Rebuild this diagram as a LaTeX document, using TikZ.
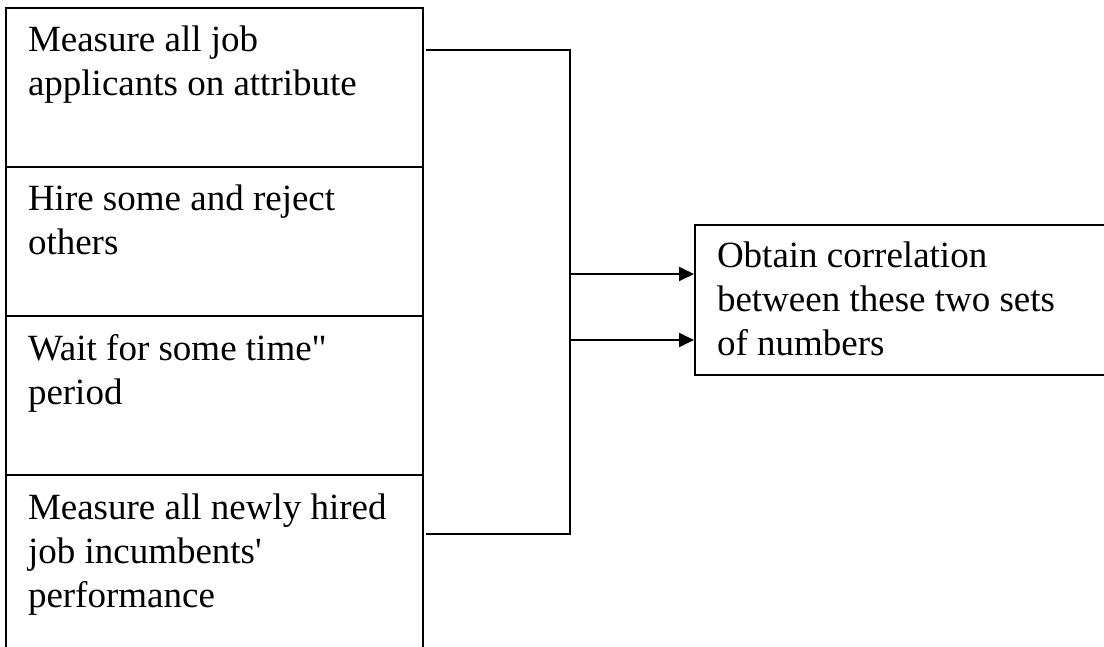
\documentclass[tikz,border=0pt]{standalone}
\usepackage{fontspec}
\setmainfont{Liberation Serif}[Ligatures=TeXOff]
\usetikzlibrary{calc,arrows.meta}
\tikzset{
  stepbox/.style={draw=black, line width=1.8pt, inner xsep=22pt, inner ysep=0pt, outer sep=0pt, anchor=north west, font=\fontsize{37}{44}\selectfont},
  link/.style={draw=black, line width=1.8pt},
  arr/.style={link, -{Triangle[length=15pt,width=14pt]}}
}
\newcommand{\boxtext}[3]{\parbox[t][#1][t]{#2}{\raggedright\rule{0pt}{44pt}#3}}
\begin{document}
\begin{tikzpicture}[x=1pt,y=-1pt]
\useasboundingbox (0,0) rectangle (1104,647);
\fill[white] (0,0) rectangle (1104,647);
\node[stepbox] (b1) at (6,8) {\boxtext{159pt}{373pt}{Measure all job\\applicants on attribute}};
\node[stepbox] (b2) at (b1.south west) {\boxtext{149pt}{373pt}{Hire some and reject\\others}};
\node[stepbox] (b3) at (b2.south west) {\boxtext{159pt}{373pt}{Wait for some time"\\period}};
\node[stepbox] (b4) at (b3.south west) {\boxtext{185pt}{373pt}{Measure all newly hired\\job incumbents'\\performance}};
\node[stepbox] (res) at (695,225) {\parbox[t][150pt][t]{371pt}{\raggedright\rule{0pt}{43pt}Obtain correlation\\between these two sets\\of numbers}};
\coordinate (sp) at (570,0);
\coordinate (t1) at ($(b1.north east)+(3,42)$);
\coordinate (t4) at ($(b4.north east)+(3,59)$);
\coordinate (a1) at ($(res.north west)+(-1,49)$);
\coordinate (a2) at ($(res.north west)+(-1,115)$);
\draw[link] (t1) -- (t1 -| sp) -- (t4 -| sp) -- (t4);
\draw[arr] (a1 -| sp) -- (a1);
\draw[arr] (a2 -| sp) -- (a2);
\end{tikzpicture}
\end{document}
